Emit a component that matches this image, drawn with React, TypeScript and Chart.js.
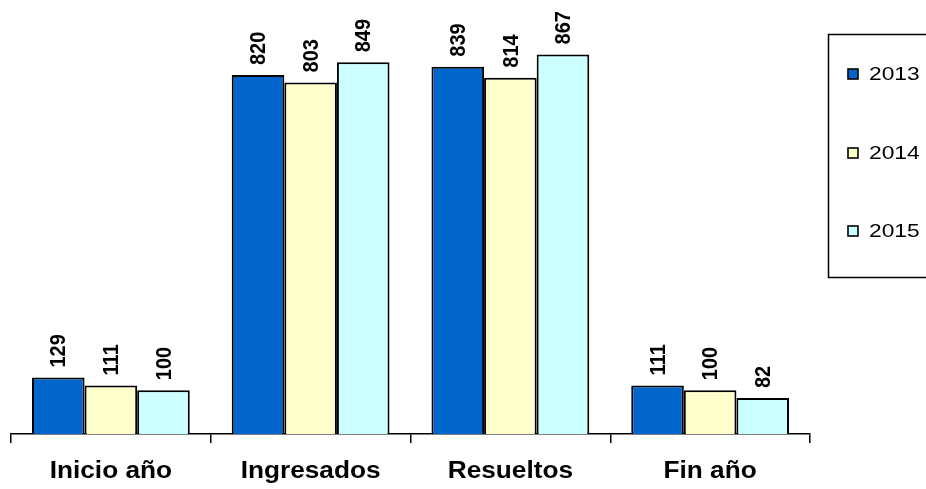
import React, { useEffect, useRef } from "react";
import { Chart, registerables } from "chart.js";

Chart.register(...registerables);

const categories = ["Inicio año", "Ingresados", "Resueltos", "Fin año"];
const seriesLabels = ["2013", "2014", "2015"];
const values2013 = [129, 820, 839, 111];
const values2014 = [111, 803, 814, 100];
const values2015 = [100, 849, 867, 82];
const seriesColors = ["#0066CC", "#FFFFCC", "#CCFFFF"];

const FONT = "Arial, 'Liberation Sans', sans-serif";

const dataLabelPlugin = {
  id: "dataLabels",
  afterDatasetsDraw(chart: any) {
    const ctx = chart.ctx;
    ctx.save();
    ctx.font = `bold 20px ${FONT}`;
    ctx.fillStyle = "#000";
    chart.data.datasets.forEach((ds: any, i: number) => {
      const meta = chart.getDatasetMeta(i);
      meta.data.forEach((bar: any, j: number) => {
        ctx.save();
        ctx.translate(bar.x, bar.y - 10);
        ctx.scale(1.1, 1);
        ctx.rotate(-Math.PI / 2);
        ctx.textAlign = "left";
        ctx.textBaseline = "middle";
        ctx.fillText(String(ds.data[j]), 0, 1);
        ctx.restore();
      });
    });
    ctx.restore();
  },
};

const categoryLabelPlugin = {
  id: "categoryLabels",
  afterDraw(chart: any) {
    const ctx = chart.ctx;
    const xs = chart.scales.x;
    ctx.save();
    ctx.font = `bold 23px ${FONT}`;
    ctx.fillStyle = "#000";
    ctx.textAlign = "center";
    ctx.textBaseline = "middle";
    chart.data.labels.forEach((lab: string, i: number) => {
      const x = xs.getPixelForTick(i);
      ctx.save();
      ctx.translate(x, 472);
      ctx.scale(1.14, 1);
      ctx.fillText(lab, 0, 0);
      ctx.restore();
    });
    ctx.restore();
  },
};

const boxLegendPlugin = {
  id: "boxLegend",
  afterDraw(chart: any) {
    const ctx = chart.ctx;
    ctx.save();
    ctx.strokeStyle = "#000";
    ctx.lineWidth = 1.5;
    ctx.strokeRect(828.5, 34.5, 120, 243);
    ctx.font = `19px ${FONT}`;
    ctx.textBaseline = "middle";
    ctx.textAlign = "left";
    const ys = [74, 153, 231];
    chart.data.datasets.forEach((ds: any, i: number) => {
      const y = ys[i];
      ctx.fillStyle = ds.backgroundColor;
      ctx.fillRect(848, y - 5, 10, 10);
      ctx.strokeStyle = "#000";
      ctx.lineWidth = 1.6;
      ctx.strokeRect(848, y - 5, 10, 10);
      ctx.fillStyle = "#000";
      ctx.save();
      ctx.translate(869, y + 1);
      ctx.scale(1.2, 1);
      ctx.fillText(ds.label, 0, 0);
      ctx.restore();
    });
    ctx.restore();
  },
};

export default function App() {
  const ref = useRef<HTMLCanvasElement | null>(null);
  useEffect(() => {
    if (!ref.current) return;
    const datasets = [values2013, values2014, values2015].map((d, i) => ({
      label: seriesLabels[i],
      data: d,
      backgroundColor: seriesColors[i],
      borderColor: "#000",
      borderWidth: 2,
      borderSkipped: "bottom" as const,
      categoryPercentage: 0.79,
      barPercentage: 1,
    }));
    const chart = new Chart(ref.current, {
      type: "bar",
      data: { labels: categories, datasets },
      options: {
        animation: false,
        responsive: false,
        maintainAspectRatio: false,
        layout: { padding: { left: 11, right: 116, top: 40, bottom: 46 } },
        plugins: { legend: { display: false }, tooltip: { enabled: false } },
        scales: {
          x: {
            offset: true,
            grid: {
              offset: true,
              drawOnChartArea: false,
              tickLength: 9,
              color: "#000",
              lineWidth: 1.5,
            },
            border: { display: true, color: "#000", width: 1.5 },
            ticks: { display: false },
          },
          y: {
            display: false,
            min: 0,
            max: 900,
          },
        },
      },
      plugins: [dataLabelPlugin, categoryLabelPlugin, boxLegendPlugin],
    });
    return () => chart.destroy();
  }, []);
  return (
    <div style={{ position: "fixed", left: 0, top: 0, width: 926, height: 489, background: "#fff" }}>
      <canvas ref={ref} width={926} height={489} style={{ width: 926, height: 489 }} />
    </div>
  );
}
